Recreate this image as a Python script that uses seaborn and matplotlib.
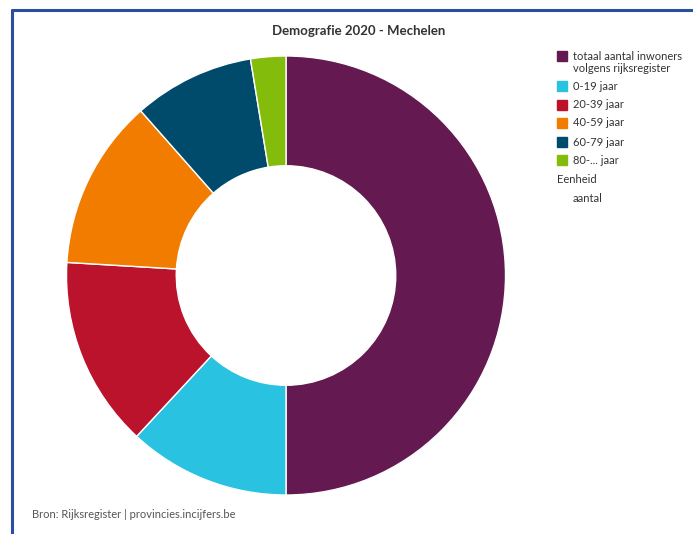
import matplotlib
matplotlib.use("Agg")
import matplotlib.pyplot as plt
import seaborn as sns
from matplotlib.patches import Rectangle
from matplotlib.lines import Line2D

categories = ["totaal aantal inwoners\nvolgens rijksregister", "0-19 jaar", "20-39 jaar",
              "40-59 jaar", "60-79 jaar", "80-... jaar"]
values = [86900, 20700, 24400, 21800, 15500, 4500]
colors = ["#641a50", "#29c2e0", "#bb132c", "#f27c00", "#004b6b", "#84bc0c"]
title = "Demografie 2020 - Mechelen"
source = "Bron: Rijksregister | provincies.incijfers.be"
unit_label = "Eenheid"
unit_value = "aantal"

sns.set_theme(style="white")
plt.rcParams['font.family'] = ['Lato', 'DejaVu Sans']

W, H = 693, 534
fig = plt.figure(figsize=(W / 100, H / 100), dpi=100)
fig.patch.set_facecolor("white")

# frame lines (blue border top and left)
fig.add_artist(Line2D([11.5 / W, 1], [1 - 9.5 / H, 1 - 9.5 / H], color="#2a4ea0", lw=2.2,
                      transform=fig.transFigure))
fig.add_artist(Line2D([11.5 / W, 11.5 / W], [0, 1 - 9.5 / H], color="#2a4ea0", lw=2.2,
                      transform=fig.transFigure))

cx, cy, r = 286, 275.5, 219.5
ax = fig.add_axes([(cx - r) / W, (H - cy - r) / H, 2 * r / W, 2 * r / H])
ax.pie(values, colors=colors, startangle=90, counterclock=False, radius=1.0,
       wedgeprops=dict(width=0.5, edgecolor="white", linewidth=1.0))
ax.set_xlim(-1, 1)
ax.set_ylim(-1, 1)
ax.set_aspect("auto")
ax.axis("off")

fig.text(359 / W, 1 - 31 / H, title, ha="center", va="center", fontsize=9.5,
         fontweight="bold", color="#333333")

# legend
ys = [56, 86, 105, 123, 142, 160]
for lab, col, y in zip(categories, colors, ys):
    fig.add_artist(Rectangle((557 / W, 1 - (y + 5) / H), 10 / W, 10 / H, color=col,
                             transform=fig.transFigure))
    for k, line in enumerate(lab.split("\n")):
        fig.text(573 / W, 1 - (y + 12 * k) / H, line, ha="left", va="center",
                 fontsize=8, color="#333333")
fig.text(557 / W, 1 - 180 / H, unit_label, ha="left", va="center", fontsize=8, color="#333333")
fig.text(573 / W, 1 - 198 / H, unit_value, ha="left", va="center", fontsize=8, color="#333333")

fig.text(32 / W, 1 - 515 / H, source, ha="left", va="center", fontsize=8, color="#555555")

fig.savefig("out.png", dpi=100, facecolor="white")
